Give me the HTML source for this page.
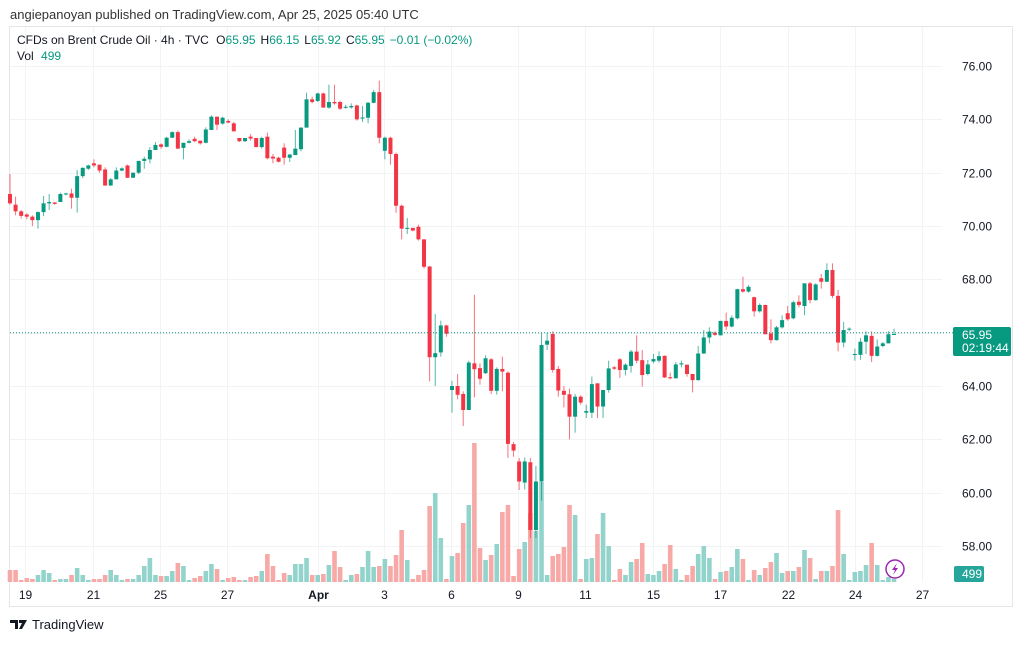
<!DOCTYPE html>
<html><head><meta charset="utf-8"><style>
html,body{margin:0;padding:0;background:#fff;}
body{width:1024px;height:641px;overflow:hidden;position:relative;font-family:"Liberation Sans",sans-serif;}
svg text{font-family:"Liberation Sans",sans-serif;}
</style></head><body>
<svg id="chart" width="1024" height="641" viewBox="0 0 1024 641" xmlns="http://www.w3.org/2000/svg">
<text x="10" y="19" font-size="13" fill="#333">angiepanoyan published on TradingView.com, Apr 25, 2025 05:40 UTC</text>
<rect x="9.5" y="26.5" width="1003" height="580" fill="none" stroke="#e6e6e6"/>
<g id="grid"></g>
<g id="vols"></g>
<g id="candles"></g>
<line x1="10" x2="953" y1="332.7" y2="332.7" stroke="#089981" stroke-dasharray="1,2" stroke-width="1"/>
<g id="yaxis"></g>
<g id="xaxis"></g>
<rect x="953" y="327" width="58" height="29" rx="2" fill="#089981"/>
<text x="962" y="339" font-size="12" fill="#fff">65.95</text>
<text x="962" y="352" font-size="12" fill="#fff">02:19:44</text>
<rect x="954" y="566" width="30" height="16" rx="2" fill="#26a69a"/>
<text x="962" y="578" font-size="12" fill="#fff">499</text>
<g>
<circle cx="895" cy="569" r="9" fill="#fff" stroke="#9c27b0" stroke-width="1.5"/>
<path d="M897 563 L892 570 L895 570 L893 575 L898 568 L895 568 Z" fill="#9c27b0"/>
</g>
<text x="17" y="44" font-size="12" fill="#131722">CFDs on Brent Crude Oil · 4h · TVC <tspan dx="4">O</tspan><tspan fill="#089981">65.95</tspan><tspan dx="5">H</tspan><tspan fill="#089981">66.15</tspan><tspan dx="5">L</tspan><tspan fill="#089981">65.92</tspan><tspan dx="5">C</tspan><tspan fill="#089981">65.95</tspan><tspan dx="5" fill="#089981">−0.01 (−0.02%)</tspan></text>
<text x="17" y="60" font-size="12" fill="#131722">Vol <tspan dx="4" fill="#089981">499</tspan></text>
<g>
<path d="M10 620 h8 v9 h-3 v-6 h-5 z M19 620 h8 l-5 9 h-3 l3-6 h-3 z" fill="#131722"/>
<circle cx="20.5" cy="621.5" r="1.5" fill="#131722"/>
<text x="32" y="629" font-size="13" fill="#131722">TradingView</text>
</g>
</svg>
<script>
const opens=[71.2,70.8,70.55,70.43,70.35,70.22,70.52,70.85,70.88,70.9,71.2,71.22,71.06,71.87,72.15,72.35,72.3,72.12,71.52,71.75,72.08,72.27,71.81,72.0,72.44,72.5,72.85,73.06,72.97,73.31,73.52,72.93,73.12,73.27,73.2,73.12,73.6,74.1,73.84,73.94,73.85,73.3,73.18,73.35,73.3,72.96,73.35,72.6,72.56,72.94,72.56,72.66,72.88,73.69,74.75,74.69,74.97,74.44,74.65,74.65,74.44,74.45,74.52,74.03,74.06,74.62,75.02,72.82,73.31,72.7,70.76,69.9,69.93,69.97,69.5,68.48,65.08,65.26,66.27,63.85,64.0,63.7,63.1,64.85,64.67,64.48,65.0,63.82,64.64,64.5,61.82,61.17,60.38,61.14,58.6,60.42,65.55,65.95,64.64,63.82,63.69,62.85,63.6,63.0,63.0,64.1,63.23,63.85,64.7,65.0,64.6,64.75,65.29,64.97,64.45,64.92,64.95,65.13,64.33,64.29,64.81,64.8,64.45,64.22,65.22,65.82,66.0,65.9,66.44,66.23,66.54,67.63,67.54,67.33,66.8,67.04,65.97,65.72,66.2,66.73,66.54,67.16,67.0,67.85,67.22,68.04,67.91,68.35,67.38,65.63,66.12,65.17,65.17,65.66,65.88,65.13,65.5,65.6,65.95];
const highs=[71.95,71.1,70.6,70.48,70.4,70.55,71.13,71.2,70.9,71.25,71.25,71.4,72.1,72.2,72.3,72.5,72.3,72.2,71.8,72.2,72.2,72.3,72.0,72.45,72.6,72.96,73.15,73.1,73.35,73.55,73.58,73.12,73.25,73.35,73.2,73.7,74.15,74.1,74.1,74.0,73.9,73.3,73.3,73.45,73.3,73.35,73.5,72.7,72.6,73.1,72.7,73.6,73.7,75.0,74.85,75.0,75.0,75.3,75.3,74.7,74.55,74.6,74.55,74.5,74.65,75.1,75.45,73.35,73.35,72.75,70.8,70.3,69.93,70.05,69.5,68.5,66.7,66.45,66.3,64.2,64.45,63.8,64.95,67.42,64.85,65.15,65.05,64.7,65.1,64.55,61.9,61.3,61.32,61.3,61.0,65.98,65.98,66.05,64.75,64.0,63.9,63.7,63.65,63.3,64.35,64.1,63.85,64.95,64.75,65.05,64.85,65.35,65.9,65.35,64.98,65.2,65.3,65.15,64.5,64.9,64.95,64.8,64.45,65.5,66.1,66.2,66.05,66.45,66.75,66.65,67.65,68.1,67.78,67.35,67.1,67.05,66.5,66.25,66.65,67.0,67.2,67.4,67.85,67.9,67.85,68.2,68.6,68.6,67.6,66.4,66.2,65.4,65.8,66.05,66.05,65.75,65.65,66.05,66.15];
const lows=[70.8,70.4,70.28,70.25,70.0,69.9,70.37,70.6,70.8,70.9,71.15,70.65,70.5,71.8,72.1,72.2,72.0,71.5,71.5,71.75,72.05,71.8,71.8,71.95,72.15,72.35,72.85,72.9,72.95,73.3,72.9,72.5,73.1,73.15,73.05,73.1,73.6,73.6,73.8,73.85,73.55,73.15,73.15,73.2,72.95,72.9,72.5,72.35,72.38,72.3,72.4,72.66,72.8,73.69,74.6,74.65,74.44,74.4,74.55,74.35,74.4,74.4,73.95,73.9,73.85,74.6,73.1,72.5,72.3,70.5,69.5,69.7,69.8,69.45,68.4,64.17,64.0,65.1,65.85,63.0,63.5,62.5,63.1,63.57,64.05,64.45,63.7,63.68,63.8,61.3,61.35,60.1,60.12,58.3,58.3,59.7,65.35,64.5,63.6,63.2,62.0,62.25,63.3,62.8,62.8,62.8,62.8,63.75,64.6,64.3,64.4,64.5,64.85,63.98,64.4,64.85,64.88,64.3,64.25,64.28,64.7,64.35,63.76,64.2,65.2,65.6,65.88,65.9,66.1,66.2,66.5,67.5,67.5,66.6,66.75,65.94,65.6,65.7,66.15,66.45,66.5,66.95,66.65,67.1,67.2,67.65,67.9,67.3,65.3,65.45,66.05,64.95,64.98,65.2,64.9,65.1,65.45,65.6,65.92];
const closes=[70.85,70.55,70.38,70.35,70.22,70.52,70.85,70.9,70.83,71.2,71.22,71.06,71.87,72.18,72.27,72.27,72.08,71.52,71.75,72.08,72.16,71.81,72.0,72.44,72.52,72.85,73.04,72.97,73.31,73.52,72.9,73.12,73.18,73.18,73.1,73.62,74.1,73.8,74.06,73.88,73.55,73.18,73.3,73.28,72.96,73.3,72.54,72.53,72.41,72.56,72.68,72.9,73.69,74.75,74.65,74.97,74.44,74.65,74.6,74.4,74.47,74.5,74.0,74.07,74.62,75.02,73.31,73.31,72.7,70.76,69.9,69.93,69.83,69.5,68.47,65.08,65.23,66.27,65.96,64.0,63.67,63.1,64.88,64.63,64.27,65.04,63.82,64.64,64.54,61.83,61.58,60.42,61.17,58.6,60.42,65.54,65.7,64.6,63.83,63.67,62.85,63.6,63.38,63.06,64.07,63.23,63.85,64.66,64.65,64.6,64.8,65.29,64.95,64.41,64.81,65.01,65.12,64.32,64.29,64.81,64.85,64.45,64.22,65.22,65.82,66.04,65.92,66.44,66.23,66.56,67.63,67.54,67.72,66.8,67.04,65.94,65.72,66.2,66.47,66.5,67.14,67.04,67.85,67.22,67.81,67.91,68.35,67.38,65.63,66.1,66.15,65.2,65.66,65.9,65.13,65.48,65.6,65.94,65.95];
const volumes=[12,12,2,4,3,7,12,9,2,3,3,7,14,7,2,3,3,7,12,7,2,3,3,7,16,24,7,6,6,11,19,16,2,4,6,11,18,13,2,4,5,2,2,5,6,11,28,16,2,9,7,18,18,24,7,7,8,17,31,15,2,7,8,15,31,15,16,23,16,27,52,22,3,7,12,76,89,44,3,26,29,59,77,139,34,22,27,38,70,77,6,33,40,69,51,100,7,26,28,35,77,67,3,23,24,48,69,36,2,13,7,20,23,39,8,7,11,18,37,13,2,7,16,28,36,24,3,10,11,15,33,23,2,12,7,14,20,29,9,11,11,15,32,24,3,11,11,16,72,28,2,10,11,17,39,17,2,5,3];
const priceTicks=[76,74,72,70,68,66,64,62,60,58];
const dateLabels=["19","21","25","27","Apr","3","6","9","11","15","17","22","24","27"];
const dateIdx=[2.7,14.8,26.8,38.8,55,66.9,78.8,90.8,102.8,114.9,126.9,139,151,163];

const NS="http://www.w3.org/2000/svg";
function xOf(i){return 10+i*5.595;}
function yOf(p){return 66+(76-p)*26.667;}
function yVol(v){return 582-v;}
function mk(tag,attrs,parent){const e=document.createElementNS(NS,tag);for(const k in attrs)e.setAttribute(k,attrs[k]);parent.appendChild(e);return e;}

const grid=document.getElementById('grid');
const yaxis=document.getElementById('yaxis');
priceTicks.forEach(function(p){
  const y=Math.round(yOf(p))+0.5;
  const gl=mk('line',{x1:10,x2:942,y1:y,y2:y,stroke:'#f2f3f5','stroke-width':1},grid);
  
  
  const t=mk('text',{x:962,y:y+4,'font-size':12,fill:'#131722'},yaxis);
  t.textContent=p.toFixed(2);
  
  
});
const xaxis=document.getElementById('xaxis');
dateLabels.forEach(function(lb,k){
  const x=Math.round(xOf(dateIdx[k]))+0.5;
  const gl=mk('line',{x1:x,x2:x,y1:27,y2:582,stroke:'#f2f3f5','stroke-width':1},grid);
  
  
  const t=mk('text',{x:x,y:599,'font-size':12,fill:'#131722','text-anchor':'middle','font-weight':lb==='Apr'?'bold':'normal'},xaxis);
  t.textContent=lb;
  
  
});

const vg=document.getElementById('vols');
const cg=document.getElementById('candles');
for(let i=0;i<opens.length;i++){
  const up=closes[i]>=opens[i];
  const x=xOf(i);
  const v=volumes[i];
  const vb=mk('rect',{x:x-2.3,y:yVol(v),width:4.6,height:v,fill:up?'#92d4cc':'#f7a9a7'},vg);
  
  
  const col=up?'#089981':'#f23645';
  const w=mk('line',{x1:x,x2:x,y1:yOf(highs[i]),y2:yOf(lows[i]),stroke:col,'stroke-width':1,'stroke-opacity':0.7},cg);
  
  
  const yt=yOf(Math.max(opens[i],closes[i])), yb=yOf(Math.min(opens[i],closes[i]));
  const b=mk('rect',{x:x-2,y:yt,width:4,height:Math.max(1,yb-yt),fill:col},cg);
  
  
}
</script>
</body></html>
